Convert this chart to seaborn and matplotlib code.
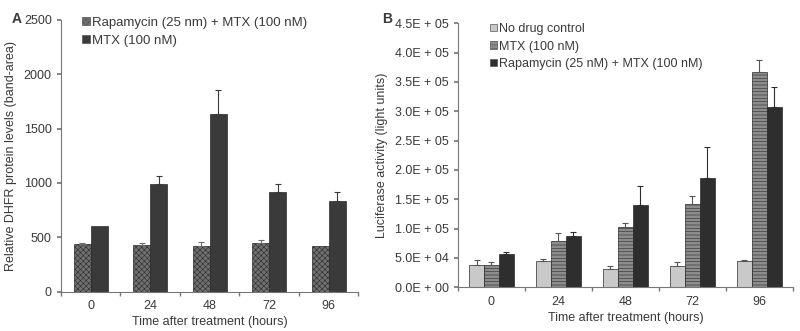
import numpy as np
import pandas as pd
import seaborn as sns
import matplotlib.pyplot as plt
from matplotlib.ticker import FuncFormatter, FixedLocator
from matplotlib.patches import Patch

# time points shared by both panels
hours = ['0', '24', '48', '72', '96']

# Panel A - DHFR protein levels
a_rapa = [435, 427, 421, 450, 420]
a_rapa_err = [8, 18, 40, 28, 0]
a_mtx = [603, 990, 1635, 912, 835]
a_mtx_err = [0, 75, 220, 75, 85]
a_labels = ['Rapamycin (25 nm) + MTX (100 nM)', 'MTX (100 nM)']

# Panel B - luciferase activity
b_ctrl = [38000, 44300, 30700, 36400, 44900]
b_ctrl_err = [8600, 4600, 5700, 6800, 1700]
b_mtx = [38600, 79000, 103400, 142600, 367500]
b_mtx_err = [5000, 13000, 5600, 13100, 20000]
b_rapa = [56250, 87000, 140300, 185800, 307400]
b_rapa_err = [4500, 6700, 32400, 52800, 33500]
b_labels = ['No drug control', 'MTX (100 nM)', 'Rapamycin (25 nM) + MTX (100 nM)']

sns.set_theme(style='ticks')
plt.rcParams['font.family'] = ['Liberation Sans', 'DejaVu Sans']
plt.rcParams['hatch.linewidth'] = 0.4
txt = '#3a3a3a'

fig = plt.figure(figsize=(8, 3.31), dpi=100)
axA = fig.add_axes([0.076, 0.119, 0.372, 0.821])
axB = fig.add_axes([0.5725, 0.132, 0.4185, 0.798])


def build(series):
    rows = []
    for vals, errs, lab in series:
        for h, v, e in zip(hours, vals, errs):
            rows.append({'hour': h, 'value': v, 'err': e, 'group': lab})
    return pd.DataFrame(rows)


def draw(ax, df, labels, colors, hatches, hcolors, width, ecols, legsize, anchor):
    sns.barplot(data=df, x='hour', y='value', hue='group', order=hours,
                hue_order=labels, palette=colors, width=width, gap=0,
                errorbar=None, saturation=1, ax=ax, legend=False,
                edgecolor='#2a2a2a', linewidth=0.5)
    # bars come out grouped by hue, in hour order
    for i, lab in enumerate(labels):
        sub = df[df['group'] == lab].set_index('hour').loc[hours]
        bars = ax.patches[i * len(hours):(i + 1) * len(hours)]
        xs = []
        for b in bars:
            b.set_hatch(hatches[i])
            try:
                b.set_hatchcolor(hcolors[i])
            except AttributeError:
                pass
            xs.append(b.get_x() + b.get_width() / 2)
        errs = sub['err'].values
        keep = errs > 0
        ax.errorbar(np.array(xs)[keep], sub['value'].values[keep],
                    yerr=[np.zeros(keep.sum()), errs[keep]],
                    fmt='none', ecolor=ecols[i], elinewidth=0.8,
                    capsize=2, capthick=0.8)
    handles = [Patch(facecolor=c, edgecolor='#555555', linewidth=0.5, hatch=h)
               for c, h in zip(colors, hatches)]
    ax.legend(handles, labels, loc='upper left', frameon=False,
              handlelength=0.55, handleheight=0.55, handletextpad=0.2,
              labelspacing=0.45, fontsize=legsize, labelcolor=txt,
              bbox_to_anchor=anchor, borderaxespad=0)
    ax.set_xlim(-0.5, len(hours) - 0.5)
    ax.set_xlabel('Time after treatment (hours)', fontsize=9, color=txt, labelpad=3)
    # ticks between the categories, labels in the middle
    ax.xaxis.set_minor_locator(FixedLocator(np.arange(-0.5, len(hours), 1)))
    ax.tick_params(axis='x', which='major', length=0, labelsize=9, labelcolor=txt, pad=6)
    ax.tick_params(axis='x', which='minor', length=3, color='#777777')
    ax.tick_params(axis='y', length=3, color='#777777', labelsize=9, labelcolor=txt)
    for s in ['left', 'bottom']:
        ax.spines[s].set_color('#777777')
        ax.spines[s].set_linewidth(0.8)
    sns.despine(ax=ax)


dfA = build([(a_rapa, a_rapa_err, a_labels[0]), (a_mtx, a_mtx_err, a_labels[1])])
draw(axA, dfA, a_labels, ['#707070', '#3a3a3a'], ['xxxxxx', ''], ['#909090', '#3a3a3a'],
     0.57, ['#6c6c6c', '#3a3a3a'], 9.5, (0.055, 1.03))
axA.set_ylim(0, 2500)
axA.set_yticks([0, 500, 1000, 1500, 2000, 2500])
axA.set_ylabel('Relative DHFR protein levels (band-area)', fontsize=9, color=txt, labelpad=5)

dfB = build([(b_ctrl, b_ctrl_err, b_labels[0]), (b_mtx, b_mtx_err, b_labels[1]),
             (b_rapa, b_rapa_err, b_labels[2])])
draw(axB, dfB, b_labels, ['#c9c9c9', '#8c8c8c', '#2e2e2e'], ['', '-----', ''],
     ['#555555', '#a8a8a8', '#2e2e2e'], 0.67, ['#555555', '#555555', '#2e2e2e'],
     9, (0.08, 1.02))
axB.set_ylim(0, 450000)
axB.set_yticks(np.arange(0, 450001, 50000))
axB.yaxis.set_major_formatter(FuncFormatter(lambda v, p: f'{v:.1E}'.replace('+', ' + ')))
axB.set_ylabel('Luciferase activity (light units)', fontsize=9, color=txt, labelpad=5)

fig.text(0.015, 0.965, 'A', fontsize=10, fontweight='bold', color=txt, va='top')
fig.text(0.478, 0.965, 'B', fontsize=10, fontweight='bold', color=txt, va='top')

fig.savefig('out.png', dpi=100)
